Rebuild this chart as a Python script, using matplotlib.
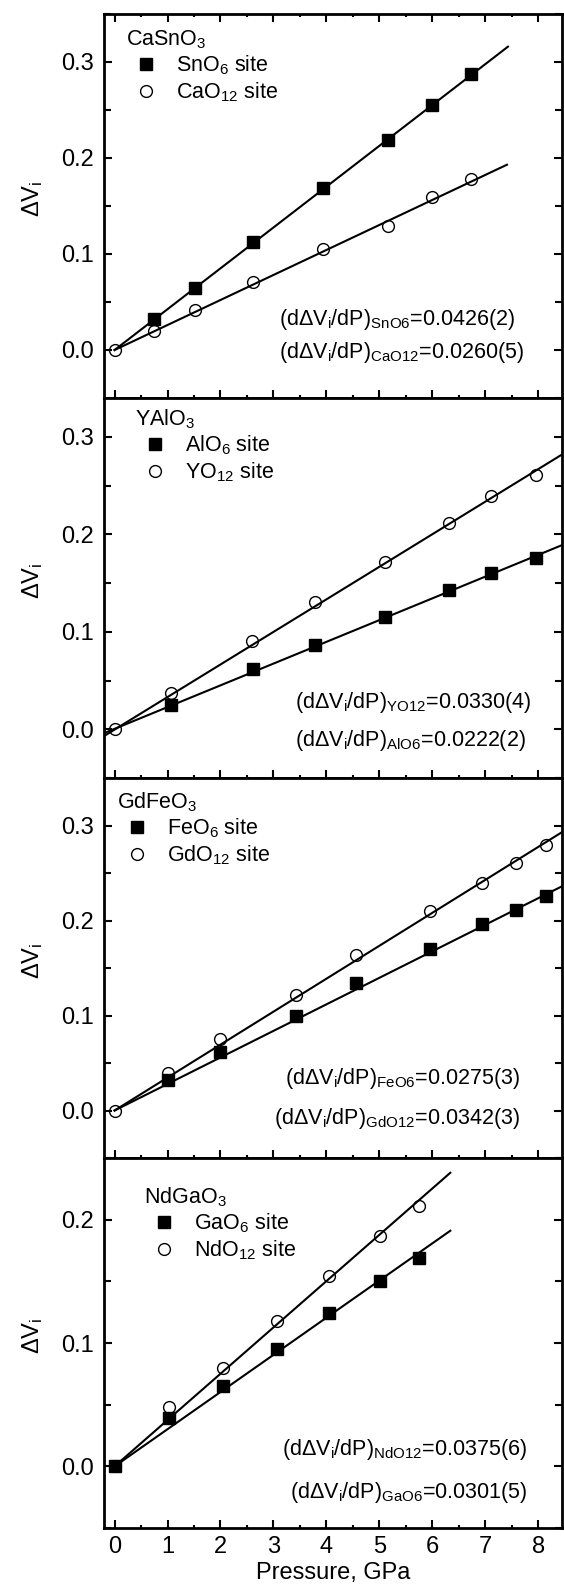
import matplotlib
matplotlib.use("Agg")
import matplotlib.pyplot as plt
from matplotlib.ticker import MultipleLocator, FormatStrFormatter
from matplotlib.lines import Line2D

plt.rcParams['font.family'] = ['Liberation Sans', 'DejaVu Sans']
plt.rcParams['mathtext.default'] = 'regular'

# ---- CaSnO3
ca_name = 'CaSnO$_3$'
ca_labels = ['SnO$_6$ site', 'CaO$_{12}$ site']
ca_sq_p = [0.75, 1.51, 2.62, 3.94, 5.17, 5.99, 6.73]
ca_sq_v = [0.032, 0.065, 0.113, 0.169, 0.219, 0.255, 0.288]
ca_ci_p = [0.0, 0.75, 1.51, 2.62, 3.94, 5.17, 5.99, 6.73]
ca_ci_v = [0.0, 0.020, 0.042, 0.071, 0.105, 0.129, 0.159, 0.178]
ca_sq_fit = ([0.0, 7.43], [0.0, 0.316])
ca_ci_fit = ([0.0, 7.41], [0.0, 0.193])
ca_notes = ['(dΔV$_i$/dP)$_{SnO6}$=0.0426(2)', '(dΔV$_i$/dP)$_{CaO12}$=0.0260(5)']

# ---- YAlO3
ya_name = 'YAlO$_3$'
ya_labels = ['AlO$_6$ site', 'YO$_{12}$ site']
ya_sq_p = [1.06, 2.62, 3.79, 5.10, 6.31, 7.10, 7.95]
ya_sq_v = [0.025, 0.062, 0.087, 0.115, 0.143, 0.160, 0.176]
ya_ci_p = [0.0, 1.06, 2.60, 3.79, 5.10, 6.31, 7.10, 7.95]
ya_ci_v = [0.0, 0.037, 0.091, 0.131, 0.172, 0.212, 0.239, 0.261]
ya_sq_fit = ([-0.2, 8.45], [-0.004, 0.189])
ya_ci_fit = ([-0.2, 8.45], [-0.007, 0.282])
ya_notes = ['(dΔV$_i$/dP)$_{YO12}$=0.0330(4)', '(dΔV$_i$/dP)$_{AlO6}$=0.0222(2)']

# ---- GdFeO3
gd_name = 'GdFeO$_3$'
gd_labels = ['FeO$_6$ site', 'GdO$_{12}$ site']
gd_sq_p = [1.0, 2.0, 3.43, 4.55, 5.95, 6.93, 7.58, 8.14]
gd_sq_v = [0.032, 0.062, 0.099, 0.134, 0.170, 0.196, 0.211, 0.226]
gd_ci_p = [0.0, 1.0, 2.0, 3.43, 4.55, 5.95, 6.93, 7.58, 8.14]
gd_ci_v = [0.0, 0.040, 0.075, 0.122, 0.164, 0.210, 0.240, 0.261, 0.279]
gd_sq_fit = ([0.0, 8.45], [0.0, 0.236])
gd_ci_fit = ([0.0, 8.45], [0.0, 0.293])
gd_notes = ['(dΔV$_i$/dP)$_{FeO6}$=0.0275(3)', '(dΔV$_i$/dP)$_{GdO12}$=0.0342(3)']

# ---- NdGaO3
nd_name = 'NdGaO$_3$'
nd_labels = ['GaO$_6$ site', 'NdO$_{12}$ site']
nd_sq_p = [0.0, 1.03, 2.04, 3.07, 4.05, 5.01, 5.75]
nd_sq_v = [0.0, 0.039, 0.065, 0.095, 0.124, 0.150, 0.169]
nd_ci_p = [0.0, 1.03, 2.04, 3.07, 4.05, 5.01, 5.75]
nd_ci_v = [0.0, 0.048, 0.080, 0.118, 0.154, 0.187, 0.211]
nd_sq_fit = ([0.0, 6.34], [0.0, 0.191])
nd_ci_fit = ([0.0, 6.34], [0.0, 0.238])
nd_notes = ['(dΔV$_i$/dP)$_{NdO12}$=0.0375(6)', '(dΔV$_i$/dP)$_{GaO6}$=0.0301(5)']

panels = [
    (ca_name, ca_labels, ca_sq_p, ca_sq_v, ca_ci_p, ca_ci_v, ca_sq_fit, ca_ci_fit, ca_notes),
    (ya_name, ya_labels, ya_sq_p, ya_sq_v, ya_ci_p, ya_ci_v, ya_sq_fit, ya_ci_fit, ya_notes),
    (gd_name, gd_labels, gd_sq_p, gd_sq_v, gd_ci_p, gd_ci_v, gd_sq_fit, gd_ci_fit, gd_notes),
    (nd_name, nd_labels, nd_sq_p, nd_sq_v, nd_ci_p, nd_ci_v, nd_sq_fit, nd_ci_fit, nd_notes),
]

# layout: pixel rows of each panel, y range, note placement
W, H = 564, 1587
rows = [(14, 398), (398, 778), (778, 1158), (1158, 1528)]
ylims = [(-0.05, 0.35), (-0.05, 0.34), (-0.05, 0.35), (-0.05, 0.25)]
note_pos = [  # x, y1, y2, ha
    (3.1, 0.026, -0.0083, 'left'),
    (3.4, 0.022, -0.017, 'left'),
    (7.66, 0.028, -0.014, 'right'),
    (7.79, 0.009, -0.026, 'right'),
]
legend_anchor = [(126, 28), (135, 407), (117, 790), (144, 1185)]

fig = plt.figure(figsize=(W / 100, H / 100), dpi=100)

for i, (name, labels, sp, sv, cp, cv, sfit, cfit, notes) in enumerate(panels):
    top, bot = rows[i]
    ax = fig.add_axes([104 / W, 1 - bot / H, 458 / W, (bot - top) / H])
    ax.plot(sfit[0], sfit[1], color='black', lw=1.5, zorder=2)
    ax.plot(cfit[0], cfit[1], color='black', lw=1.5, zorder=2)
    ax.plot(cp, cv, 'o', ms=8.5, mfc='none', mec='black', mew=1.0, zorder=3)
    ax.plot(sp, sv, 's', ms=8, mfc='black', mec='black', zorder=4)

    ax.set_xlim(-0.2, 8.45)
    ax.set_ylim(*ylims[i])
    ax.xaxis.set_major_locator(MultipleLocator(1))
    ax.xaxis.set_minor_locator(MultipleLocator(0.5))
    ax.yaxis.set_major_locator(MultipleLocator(0.1))
    ax.yaxis.set_minor_locator(MultipleLocator(0.05))
    ax.yaxis.set_major_formatter(FormatStrFormatter('%.1f'))
    ax.tick_params(which='both', direction='in', top=(i == 0), right=True,
                   width=1.5, labelsize=17)
    ax.tick_params(which='major', length=6)
    ax.tick_params(axis='x', which='minor', length=2.5)
    ax.tick_params(axis='y', which='minor', length=5)
    ax.tick_params(axis='y', pad=7)
    if i < 3:
        ax.tick_params(axis='x', labelbottom=False)
    else:
        ax.tick_params(axis='x', pad=6)
        ax.set_xlabel('Pressure, GPa', fontsize=17, labelpad=3)
    for sp_ in ax.spines.values():
        sp_.set_linewidth(2)

    ax.set_ylabel('ΔV$_i$', fontsize=17)
    ax.yaxis.set_label_coords(-0.129, 0.52)

    handles = [
        Line2D([], [], ls='none', marker='s', ms=8, mfc='black', mec='black'),
        Line2D([], [], ls='none', marker='o', ms=8.5, mfc='none', mec='black', mew=1.0),
    ]
    lx, ly = legend_anchor[i]
    ax.legend(handles, labels, title=name, loc='upper left',
              bbox_to_anchor=(lx / W, 1 - ly / H), bbox_transform=fig.transFigure,
              frameon=False, alignment='left', handlelength=1.9, handletextpad=0.4,
              labelspacing=0.15, borderpad=0, borderaxespad=0,
              prop={'size': 15.5}, title_fontproperties={'size': 15.5})

    nx, ny1, ny2, ha = note_pos[i]
    ax.text(nx, ny1, notes[0], ha=ha, va='baseline', fontsize=15.5)
    ax.text(nx, ny2, notes[1], ha=ha, va='baseline', fontsize=15.5)

fig.savefig('out.png', dpi=100)
